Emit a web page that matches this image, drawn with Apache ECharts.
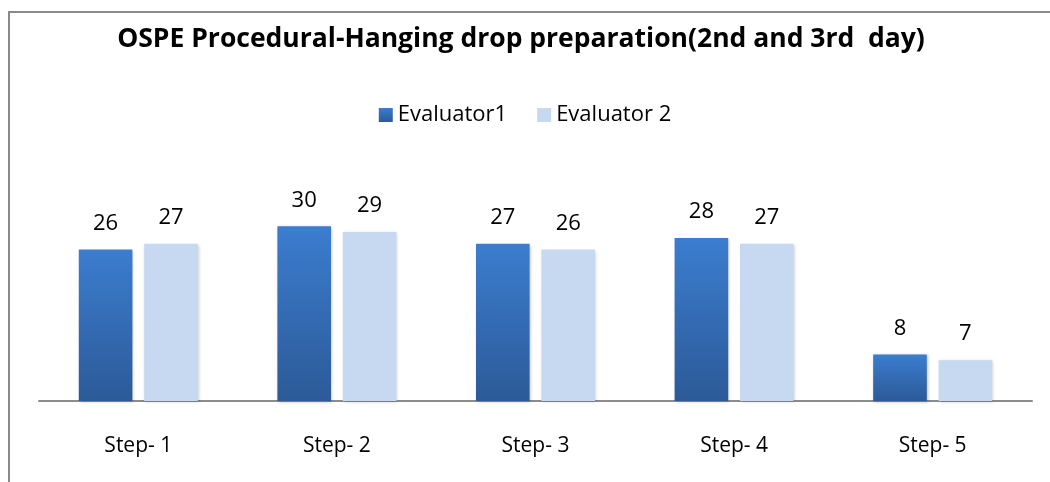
<!DOCTYPE html>
<html>
<head>
<meta charset="utf-8">
<script src="https://cdn.jsdelivr.net/npm/echarts@6/dist/echarts.min.js"></script>
<style>
  html, body { margin: 0; padding: 0; background: #fff; }
  #chart { width: 1050px; height: 482px; }
</style>
</head>
<body>
<div id="chart"></div>
<script>
// chart data
var categories = ['Step- 1', 'Step- 2', 'Step- 3', 'Step- 4', 'Step- 5']
var evaluator1 = [26, 30, 27, 28, 8]
var evaluator2 = [27, 29, 26, 27, 7]

var chart = echarts.init(document.getElementById('chart'))
var font = '"Open Sans", sans-serif'

chart.setOption({
  animation: false,
  title: {
    text: 'OSPE Procedural-Hanging drop preparation(2nd and 3rd  day)',
    left: 516,
    textAlign: 'center',
    top: 21,
    textStyle: { fontFamily: font, fontWeight: 'bold', fontSize: 26.5, color: '#000' }
  },
  legend: {
    data: ['Evaluator1', 'Evaluator 2'],
    top: 99,
    left: 'center',
    itemWidth: 14,
    itemHeight: 14,
    itemGap: 30,
    icon: 'rect',
    textStyle: { fontFamily: font, fontSize: 22, color: '#000' }
  },
  graphic: [{
    type: 'rect',
    shape: { x: 9, y: 12, width: 1100, height: 520 },
    style: { fill: 'none', stroke: '#8a8a8a', lineWidth: 2 },
    silent: true
  }],
  grid: { left: 39, right: 18, top: 168, bottom: 81 },
  xAxis: {
    type: 'category',
    data: categories,
    axisLine: { lineStyle: { color: '#8c8c8c', width: 2 } },
    axisTick: { show: false },
    axisLabel: { fontFamily: font, fontSize: 21, color: '#000', margin: 35 }
  },
  yAxis: {
    type: 'value',
    min: 0,
    max: 40,
    show: false,
    splitLine: { show: false }
  },
  series: [{
    name: 'Evaluator1',
    type: 'bar',
    data: evaluator1,
    barWidth: '27%',
    barGap: '22%',
    itemStyle: {
      color: new echarts.graphic.LinearGradient(0, 0, 0, 1, [
        { offset: 0, color: '#3b7dcf' },
        { offset: 1, color: '#2c5a98' }
      ]),
      shadowColor: 'rgba(0,0,0,0.25)',
      shadowBlur: 3,
      shadowOffsetX: 1,
      shadowOffsetY: 1
    },
    label: {
      show: true, position: 'top', distance: 15,
      fontFamily: font, fontSize: 22, color: '#000'
    }
  }, {
    name: 'Evaluator 2',
    type: 'bar',
    data: evaluator2,
    barWidth: '27%',
    itemStyle: {
      color: '#c6d9f0',
      shadowColor: 'rgba(0,0,0,0.2)',
      shadowBlur: 3,
      shadowOffsetX: 1,
      shadowOffsetY: 1
    },
    label: {
      show: true, position: 'top', distance: 15,
      fontFamily: font, fontSize: 22, color: '#000'
    }
  }]
})
</script>
</body>
</html>
